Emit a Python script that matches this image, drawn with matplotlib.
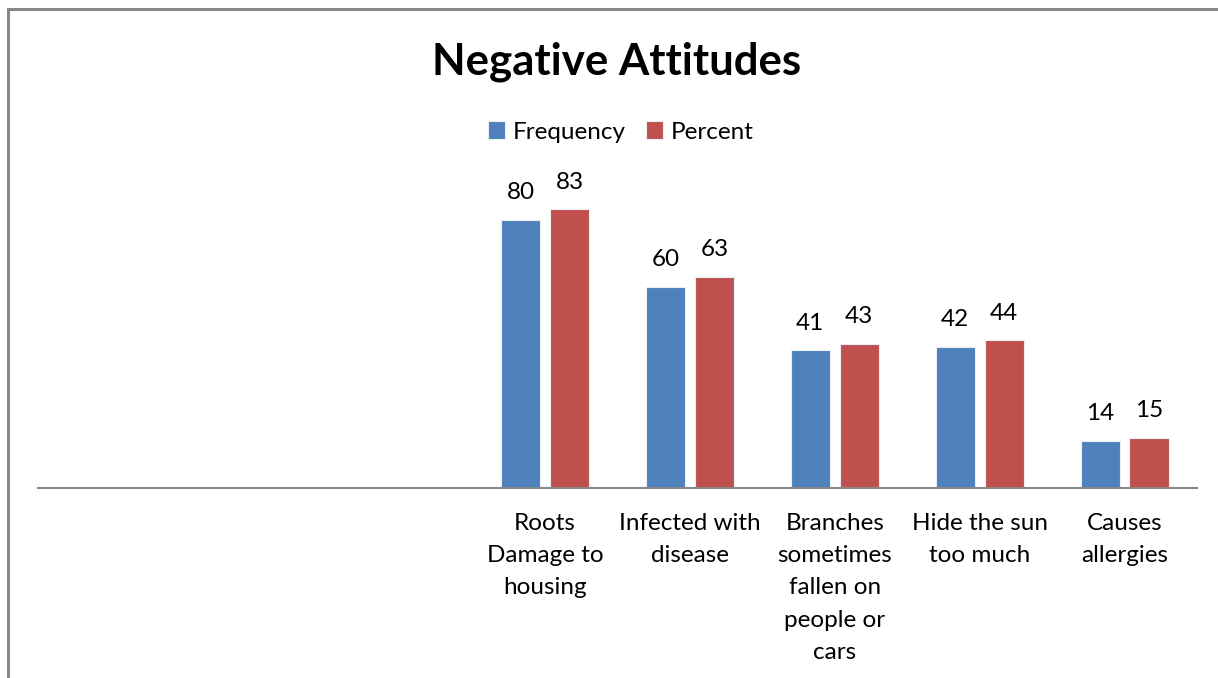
import matplotlib.pyplot as plt
import numpy as np
from matplotlib.lines import Line2D

plt.rcParams["font.family"] = ["Lato", "DejaVu Sans"]

categories = ["", "", "",
              "Roots\nDamage to\nhousing",
              "Infected with\ndisease",
              "Branches\nsometimes\nfallen on\npeople or\ncars",
              "Hide the sun\ntoo much",
              "Causes\nallergies"]
frequency = [None, None, None, 80, 60, 41, 42, 14]
percent = [None, None, None, 83, 63, 43, 44, 15]

BLUE = "#4F81BD"
RED = "#C0504D"
W = 1218
H = 678

fig = plt.figure(figsize=(W / 100, H / 100), dpi=100)
ax = fig.add_axes([38 / W, 1 - 488 / H, (1197 - 38) / W, 302 / H])

x = np.arange(len(categories))
width = 0.27
offset = 0.169

for vals, shift, color, name in [(frequency, -offset, BLUE, "Frequency"),
                                 (percent, offset, RED, "Percent")]:
    xs = [xi + shift for xi, v in zip(x, vals) if v is not None]
    ys = [v for v in vals if v is not None]
    bars = ax.bar(xs, ys, width, color=color, edgecolor="#e8eef6", linewidth=0.8,
                  label=name)
    for b, v in zip(bars, ys):
        ax.annotate(str(v), (b.get_x() + b.get_width() / 2, v),
                    xytext=(0, 12), textcoords="offset points",
                    ha="center", va="bottom", fontsize=17.5)

ax.set_xlim(-0.5, len(categories) - 0.5)
ax.set_ylim(0, 90)
ax.set_xticks(x)
ax.set_xticklabels(categories, fontsize=17.5, linespacing=1.66, va="top")
ax.tick_params(axis="x", length=0, pad=18)
ax.set_yticks([])
for side in ["top", "left", "right"]:
    ax.spines[side].set_visible(False)
ax.spines["bottom"].set_color("#888888")
ax.spines["bottom"].set_linewidth(1.5)

fig.text(617 / W, 1 - 62 / H, "Negative Attitudes", ha="center", va="center",
         fontsize=31.5, fontweight="bold")
fig.legend(loc="center", bbox_to_anchor=(621 / W, 1 - 132 / H), ncol=2,
           frameon=False, fontsize=17.5, handlelength=0.7, handleheight=0.7,
           handletextpad=0.3, columnspacing=0.85)

# outer frame on the top and left edges
fig.add_artist(Line2D([8 / W, 1], [1 - 9 / H, 1 - 9 / H], color="#888888", lw=2.2,
                      transform=fig.transFigure))
fig.add_artist(Line2D([8 / W, 8 / W], [0, 1 - 9 / H], color="#888888", lw=2.2,
                      transform=fig.transFigure))

fig.savefig("out.png", dpi=100)
